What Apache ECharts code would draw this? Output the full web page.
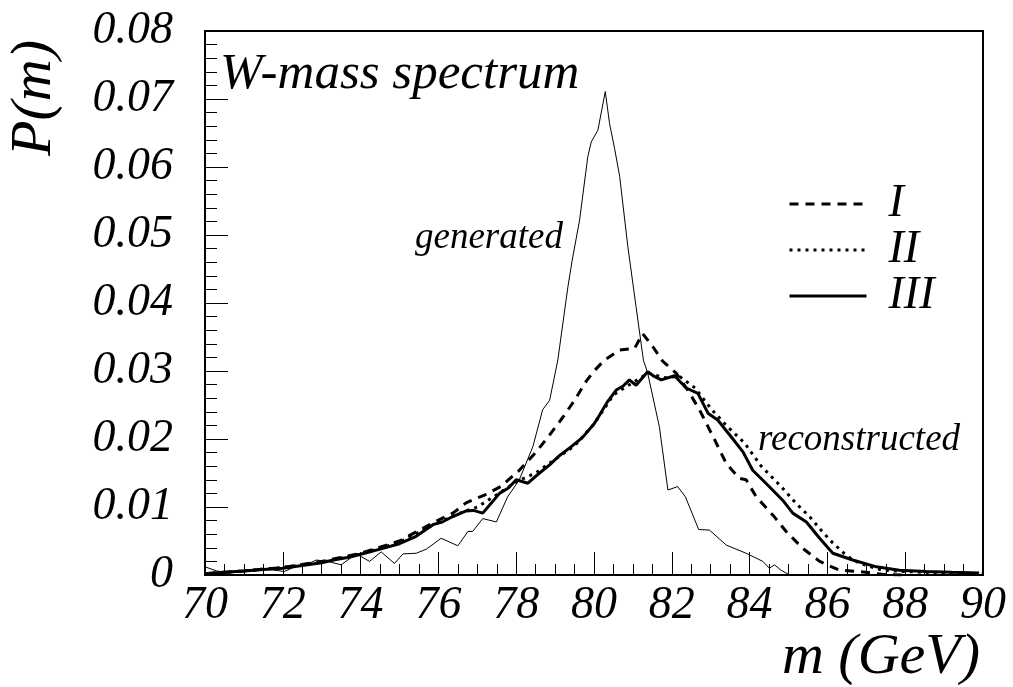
<!DOCTYPE html>
<html>
<head>
<meta charset="utf-8">
<script src="https://cdn.jsdelivr.net/npm/echarts@6/dist/echarts.min.js"></script>
<style>
  html, body { margin: 0; padding: 0; background: #fff; }
  #chart { width: 1013px; height: 687px; }
</style>
</head>
<body>
<div id="chart"></div>
<script>
// m (GeV), P(m)
var generated = [
  [70.0, 0.0012], [70.3, 0.0006], [70.63, 0.0003], [71.0, 0.0005], [71.44, 0.0010],
  [71.7, 0.0008], [72.04, 0.0005], [72.34, 0.0013], [72.6, 0.0015], [72.86, 0.0022],
  [73.16, 0.0020], [73.5, 0.0015], [73.89, 0.0031], [74.23, 0.0020], [74.53, 0.0034],
  [74.87, 0.0017], [75.09, 0.0031], [75.43, 0.0032], [75.69, 0.0038], [76.07, 0.0054],
  [76.5, 0.0043], [76.76, 0.0064], [76.88, 0.0064], [77.14, 0.0083], [77.49, 0.0078],
  [77.78, 0.0115], [78.08, 0.0140], [78.43, 0.0189], [78.68, 0.0243], [78.86, 0.0257],
  [79.07, 0.0316], [79.33, 0.0424], [79.44, 0.0463], [79.63, 0.0522], [79.84, 0.0615],
  [79.93, 0.0637], [80.1, 0.0654], [80.29, 0.0711], [80.4, 0.0664], [80.53, 0.0627],
  [80.66, 0.0586], [80.87, 0.0483], [81.08, 0.0395], [81.27, 0.0316], [81.38, 0.0297],
  [81.68, 0.0218], [81.9, 0.0125], [82.15, 0.0130], [82.35, 0.0115], [82.69, 0.0067],
  [82.97, 0.0066], [83.4, 0.0044], [83.91, 0.0032], [84.34, 0.0020], [84.51, 0.0010],
  [84.64, 0.0015], [84.81, 0.0007], [85.03, 0.0]
];
var recI = [
  [70.0, 0.0002], [71.0, 0.0006], [72.0, 0.0011], [73.0, 0.0020], [74.0, 0.0032],
  [75.0, 0.0050], [75.8, 0.0075], [76.4, 0.0092], [76.71, 0.0106], [77.2, 0.0118],
  [77.6, 0.0130], [78.08, 0.0154], [78.5, 0.0180], [78.86, 0.0206], [79.2, 0.0232],
  [79.5, 0.0257], [79.8, 0.0285], [80.0, 0.0300], [80.27, 0.0316], [80.66, 0.0331],
  [81.04, 0.0333], [81.25, 0.0355], [81.51, 0.0336], [81.77, 0.0314], [82.11, 0.0297],
  [82.41, 0.0272], [82.71, 0.0243], [83.1, 0.0199], [83.4, 0.0164], [83.74, 0.0142],
  [83.91, 0.0140], [84.17, 0.0115], [84.6, 0.0088], [84.94, 0.0064], [85.37, 0.0039],
  [85.8, 0.0020], [86.31, 0.0007], [86.83, 0.0005], [87.4, 0.0001], [88.0, 0.0]
];
var recII = [
  [70.0, 0.0002], [71.0, 0.0006], [72.0, 0.0011], [73.0, 0.0019], [74.0, 0.0031],
  [75.0, 0.0048], [75.8, 0.0072], [76.5, 0.0090], [77.0, 0.0100], [77.5, 0.0118],
  [78.0, 0.0137], [78.5, 0.0150], [79.0, 0.0170], [79.5, 0.0190], [80.0, 0.0222],
  [80.5, 0.0265], [81.0, 0.0283], [81.4, 0.0297], [81.8, 0.0290], [82.2, 0.0292],
  [82.6, 0.0275], [83.0, 0.0245], [83.4, 0.0220], [83.87, 0.0194], [84.3, 0.0160],
  [84.81, 0.0130], [85.2, 0.0105], [85.54, 0.0086], [85.85, 0.0065], [86.14, 0.0047],
  [86.5, 0.0028], [86.83, 0.0017], [87.42, 0.0007], [88.0, 0.0005], [89.0, 0.0003],
  [90.0, 0.0002]
];
var recIII = [
  [70.0, 0.0002], [70.5, 0.0004], [71.0, 0.0006], [71.5, 0.0008], [72.0, 0.0010],
  [72.5, 0.0014], [73.0, 0.0018], [73.3, 0.0022], [73.7, 0.0026], [74.1, 0.0032],
  [74.5, 0.0038], [75.0, 0.0046], [75.4, 0.0056], [75.86, 0.0074], [76.1, 0.0078],
  [76.37, 0.0086], [76.7, 0.0094], [76.9, 0.0095], [77.14, 0.0091], [77.35, 0.0105],
  [77.57, 0.0120], [77.8, 0.0128], [78.0, 0.0140], [78.3, 0.0135], [78.6, 0.0150],
  [78.86, 0.0162], [79.1, 0.0175], [79.4, 0.0188], [79.7, 0.0202], [80.0, 0.0222],
  [80.14, 0.0235], [80.35, 0.0255], [80.57, 0.0272], [80.75, 0.0278], [80.91, 0.0287],
  [81.08, 0.0279], [81.38, 0.0299], [81.55, 0.0292], [81.73, 0.0287], [82.07, 0.0293],
  [82.37, 0.0275], [82.67, 0.0267], [82.93, 0.0238], [83.18, 0.0228], [83.53, 0.0203],
  [83.83, 0.0181], [84.08, 0.0154], [84.47, 0.0132], [84.85, 0.0110], [85.11, 0.0091],
  [85.46, 0.0078], [85.8, 0.0054], [86.14, 0.0032], [86.65, 0.0022], [87.26, 0.0012],
  [87.85, 0.0007], [88.54, 0.0005], [89.2, 0.0004], [89.9, 0.0003]
];
var legendNames = ['I', 'II', 'III'];

var serif = '"Liberation Serif", "DejaVu Serif", serif';
var myChart = echarts.init(document.getElementById('chart'));

function lineSeries(name, data, width, type) {
  return {
    name: name,
    type: 'line',
    data: data,
    symbol: 'none',
    smooth: false,
    silent: true,
    animation: false,
    itemStyle: { color: '#000', opacity: 0 },
    lineStyle: { color: '#000', width: width, type: type }
  };
}

var option = {
  backgroundColor: '#fff',
  animation: false,
  grid: {
    left: 205, right: 30, top: 31, bottom: 112,
    show: true, borderColor: '#000', borderWidth: 2
  },
  legend: {
    data: legendNames,
    orient: 'vertical',
    left: 788, top: 181,
    padding: 0,
    itemGap: 0,
    itemWidth: 77,
    itemHeight: 14,
    selectedMode: false,
    itemStyle: { opacity: 0 },
    lineStyle: { width: 3 },
    textStyle: {
      fontFamily: serif, fontStyle: 'italic', fontSize: 46,
      color: '#000', lineHeight: 46, padding: [0, 0, 0, 17]
    }
  },
  xAxis: {
    type: 'value',
    min: 70, max: 90, interval: 2,
    axisLine: { lineStyle: { color: '#000', width: 2 } },
    axisTick: { inside: true, length: 23, lineStyle: { color: '#000', width: 1 } },
    minorTick: { show: true, splitNumber: 4, length: 11, lineStyle: { color: '#000', width: 1 } },
    splitLine: { show: false },
    axisLabel: {
      margin: 8, color: '#000',
      fontFamily: serif, fontStyle: 'italic', fontSize: 46
    }
  },
  yAxis: {
    type: 'value',
    min: 0, max: 0.08, interval: 0.01,
    axisLine: { lineStyle: { color: '#000', width: 2 } },
    axisTick: { inside: true, length: 23, lineStyle: { color: '#000', width: 1 } },
    minorTick: { show: true, splitNumber: 5, length: 12, lineStyle: { color: '#000', width: 1 } },
    splitLine: { show: false },
    axisLabel: {
      margin: 32, color: '#000',
      fontFamily: serif, fontStyle: 'italic', fontSize: 46,
      formatter: function (v) { return v === 0 ? '0' : v.toFixed(2); }
    }
  },
  graphic: [
    { type: 'text', x: 35, y: 40, rotation: Math.PI / 2,
      style: { text: 'P(m)', font: 'italic 58px ' + serif, fill: '#000',
               textAlign: 'right', textVerticalAlign: 'middle' } },
    { type: 'text', x: 980, y: 658,
      style: { text: 'm (GeV)', font: 'italic 58px ' + serif, fill: '#000',
               textAlign: 'right', textVerticalAlign: 'middle' } },
    { type: 'text', x: 220, y: 75,
      style: { text: 'W-mass spectrum', font: 'italic 51px ' + serif, fill: '#000',
               textAlign: 'left', textVerticalAlign: 'middle' } },
    { type: 'text', x: 415, y: 238,
      style: { text: 'generated', font: 'italic 37px ' + serif, fill: '#000',
               textAlign: 'left', textVerticalAlign: 'middle' } },
    { type: 'text', x: 758, y: 440,
      style: { text: 'reconstructed', font: 'italic 37px ' + serif, fill: '#000',
               textAlign: 'left', textVerticalAlign: 'middle' } }
  ],
  series: [
    lineSeries('generated', generated, 1, 'solid'),
    lineSeries('I', recI, 3, [9, 7]),
    lineSeries('II', recII, 3, [3, 5]),
    lineSeries('III', recIII, 3, 'solid')
  ]
};
myChart.setOption(option);
</script>
</body>
</html>
